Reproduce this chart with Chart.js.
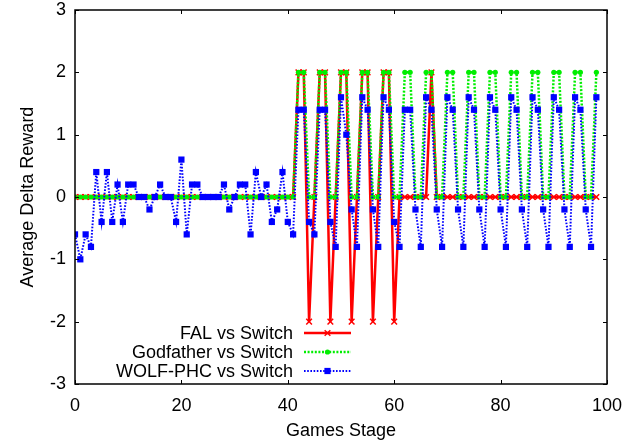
<!DOCTYPE html>
<html>
<head>
<meta charset="utf-8">
<script src="https://cdn.jsdelivr.net/npm/chart.js@4/dist/chart.umd.min.js"></script>
<style>
  html, body { margin: 0; padding: 0; background: #fff; }
  canvas { display: block; }
</style>
</head>
<body>
<canvas id="c" width="641" height="443"></canvas>
<script>
// ---- data ----
const stages = [
  0,1,2,3,4,5,6,7,8,9,
  10,11,12,13,14,15,16,17,18,19,
  20,21,22,23,24,25,26,27,28,29,
  30,31,32,33,34,35,36,37,38,39,
  40,41,42,43,44,45,46,47,48,49,
  50,51,52,53,54,55,56,57,58,59,
  60,61,62,63,64,65,66,67,68,69,
  70,71,72,73,74,75,76,77,78,79,
  80,81,82,83,84,85,86,87,88,89,
  90,91,92,93,94,95,96,97,98
];
const falVsSwitch = [
  0,0,0,0,0,0,0,0,0,0,
  0,0,0,0,0,0,0,0,0,0,
  0,0,0,0,0,0,0,0,0,0,
  0,0,0,0,0,0,0,0,0,0,
  0,0,2,2,-2,0,2,2,-2,0,
  2,2,-2,0,2,2,-2,0,2,2,
  -2,0,0,0,0,0,0,2,0,0,
  0,0,0,0,0,0,0,0,0,0,
  0,0,0,0,0,0,0,0,0,0,
  0,0,0,0,0,0,0,0,0
];
const godfatherVsSwitch = [
  0,0,0,0,0,0,0,0,0,0,
  0,0,0,0,0,0,0,0,0,0,
  0,0,0,0,0,0,0,0,0,0,
  0,0,0,0,0,0,0,0,0,0,
  0,0,2,2,0,0,2,2,0,0,
  2,2,0,0,2,2,0,0,2,2,
  0,0,2,2,0,0,2,2,0,0,
  2,2,0,0,2,2,0,0,2,2,
  0,0,2,2,0,0,2,2,0,0,
  2,2,0,0,2,2,0,0,2
];
const wolfVsSwitch = [
  -0.6,-1.0,-0.6,-0.8,0.4,-0.4,0.4,-0.4,0.2,-0.4,
  0.2,0.2,0,0,-0.2,0,0.2,0,0,-0.4,
  0.6,-0.6,0.2,0.2,0,0,0,0,0.2,-0.2,
  0,0.2,0.2,-0.6,0.4,0,0.2,-0.4,-0.2,0.4,
  -0.4,-0.6,1.4,1.4,-0.4,-0.6,1.4,1.4,-0.4,-0.8,
  1.6,1.0,-0.2,-0.8,1.6,1.4,-0.2,-0.8,1.6,1.4,
  -0.4,-0.8,1.4,1.4,-0.2,-0.8,1.6,1.4,-0.2,-0.8,
  1.6,1.4,-0.2,-0.8,1.6,1.4,-0.2,-0.8,1.6,1.4,
  -0.2,-0.8,1.6,1.4,-0.2,-0.8,1.6,1.4,-0.2,-0.8,
  1.6,1.4,-0.2,-0.8,1.6,1.4,-0.2,-0.8,1.6
];
const seriesLabels = ['FAL vs Switch', 'Godfather vs Switch', 'WOLF-PHC vs Switch'];
const xTicks = [0, 20, 40, 60, 80, 100];
const yTicks = [-3, -2, -1, 0, 1, 2, 3];
const xTitle = 'Games Stage';
const yTitle = 'Average Delta Reward';

// ---- build ----
const FONT = 'Liberation Sans, Arial, Helvetica, sans-serif';
const pts = arr => stages.map((s, i) => ({ x: s, y: arr[i] }));

const datasets = [
  {
    label: seriesLabels[0], data: pts(falVsSwitch), order: 3,
    borderColor: '#ff0000', backgroundColor: '#ff0000', borderWidth: 2.5,
    pointStyle: 'crossRot', pointRadius: 4, pointBorderWidth: 1.5,
    pointBorderColor: '#ff0000', pointBackgroundColor: '#ff0000', tension: 0
  },
  {
    label: seriesLabels[1], data: pts(godfatherVsSwitch), order: 2,
    borderColor: '#00ee00', backgroundColor: '#00ee00', borderWidth: 2.5, borderDash: [2, 1.6],
    pointStyle: 'circle', pointRadius: 2.6, pointBorderWidth: 0,
    pointBorderColor: '#00ee00', pointBackgroundColor: '#00ee00', tension: 0
  },
  {
    label: seriesLabels[2], data: pts(wolfVsSwitch), order: 1,
    borderColor: '#0000ff', backgroundColor: '#0000ff', borderWidth: 2, borderDash: [1.6, 1.6],
    pointStyle: 'rect', pointRadius: 4.4, pointBorderWidth: 0,
    pointBorderColor: '#0000ff', pointBackgroundColor: '#0000ff', tension: 0
  }
];

const framePlugin = {
  id: 'frame',
  afterDraw(chart) {
    const ctx = chart.ctx;
    const a = chart.chartArea;
    const xs = chart.scales.x, ys = chart.scales.y;
    ctx.save();
    ctx.strokeStyle = '#000';
    ctx.lineWidth = 1.5;
    ctx.strokeRect(a.left, a.top, a.right - a.left, a.bottom - a.top);
    ctx.lineWidth = 1;
    const tl = 4;
    ctx.beginPath();
    xTicks.forEach(v => {
      const px = Math.round(xs.getPixelForValue(v)) + 0.5;
      ctx.moveTo(px, a.bottom); ctx.lineTo(px, a.bottom - tl);
      ctx.moveTo(px, a.top); ctx.lineTo(px, a.top + tl);
    });
    yTicks.forEach(v => {
      const py = Math.round(ys.getPixelForValue(v)) + 0.5;
      ctx.moveTo(a.left, py); ctx.lineTo(a.left + tl, py);
      ctx.moveTo(a.right, py); ctx.lineTo(a.right - tl, py);
    });
    ctx.stroke();

    // gnuplot-style key: right-aligned text, sample line after it
    const rows = [333, 352, 371];
    const textRight = 293, lx0 = 304, lx1 = 351;
    ctx.font = '18px ' + FONT;
    ctx.textAlign = 'right';
    ctx.textBaseline = 'middle';
    chart.data.datasets.forEach((ds, i) => {
      const y = rows[i];
      ctx.fillStyle = '#000';
      ctx.fillText(ds.label, textRight, y + 1);
      ctx.save();
      ctx.strokeStyle = ds.borderColor;
      ctx.lineWidth = ds.borderWidth;
      ctx.setLineDash(ds.borderDash || []);
      ctx.beginPath();
      ctx.moveTo(lx0, y); ctx.lineTo(lx1, y);
      ctx.stroke();
      ctx.setLineDash([]);
      ctx.fillStyle = ds.pointBackgroundColor;
      ctx.strokeStyle = ds.pointBorderColor;
      ctx.lineWidth = ds.pointBorderWidth || 1;
      Chart.helpers.drawPoint(ctx, {
        pointStyle: ds.pointStyle, radius: ds.pointRadius, rotation: 0,
        borderWidth: ds.pointBorderWidth
      }, (lx0 + lx1) / 2, y);
      ctx.restore();
    });
    ctx.restore();
  }
};

new Chart(document.getElementById('c'), {
  type: 'line',
  data: { datasets },
  options: {
    responsive: false,
    animation: false,
    devicePixelRatio: 1,
    layout: { padding: { top: 10, right: 34, left: 0, bottom: 0 } },
    plugins: { legend: { display: false }, tooltip: { enabled: false } },
    scales: {
      x: {
        type: 'linear', min: 0, max: 100,
        afterBuildTicks: s => { s.ticks = xTicks.map(v => ({ value: v })); },
        afterFit: s => { s.height = 59; s.paddingLeft = 0; s.paddingRight = 0; },
        grid: { display: false, drawTicks: false },
        border: { display: false },
        ticks: { color: '#000', font: { family: FONT, size: 18 }, padding: 11, maxRotation: 0 },
        title: { display: true, text: xTitle, color: '#000', font: { family: FONT, size: 18 }, padding: { top: 0, bottom: 1 } }
      },
      y: {
        type: 'linear', min: -3, max: 3,
        afterBuildTicks: s => { s.ticks = yTicks.map(v => ({ value: v })); },
        afterFit: s => { s.width = 75; s.paddingTop = 0; s.paddingBottom = 0; },
        grid: { display: false, drawTicks: false },
        border: { display: false },
        ticks: { color: '#000', font: { family: FONT, size: 18 }, padding: 9 },
        title: { display: true, text: yTitle, color: '#000', font: { family: FONT, size: 18 }, padding: { top: 17, bottom: 0 } }
      }
    }
  },
  plugins: [framePlugin]
});
</script>
</body>
</html>
